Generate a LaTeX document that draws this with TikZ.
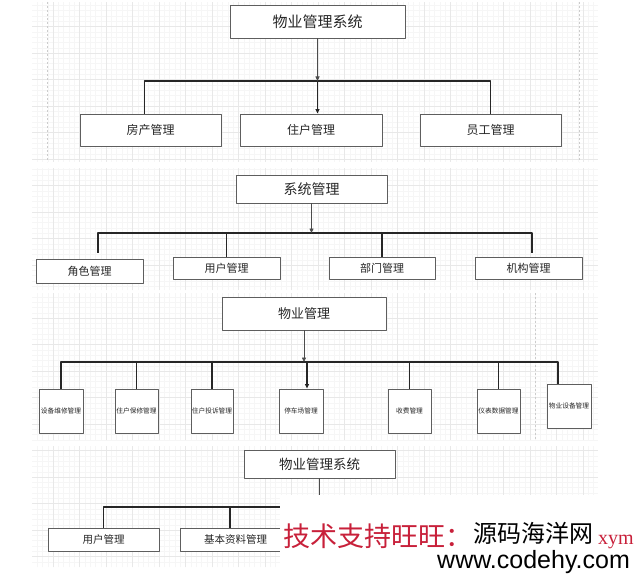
\documentclass[tikz,border=0pt]{standalone}
\usepackage{fontspec}
\newfontfamily\cjk{Noto Sans CJK SC}
\newfontfamily\wmsans{Liberation Sans}
\newfontfamily\wmserif{Liberation Serif}
\usetikzlibrary{arrows.meta}
\definecolor{boxgrey}{HTML}{5E5E5E}
\definecolor{gridminor}{HTML}{F6F6F6}
\definecolor{gridmajor}{HTML}{E8E8E8}
\definecolor{pagedash}{HTML}{CCCCCC}
\definecolor{wmred}{HTML}{C8203A}

\tikzset{
  box/.style={draw=boxgrey, line width=0.9, fill=white, inner sep=0pt, text=black!85},
  lbl/.style={font=\cjk\fontsize{#1}{#1}\selectfont},
  bus/.style={black!85, line width=1.7},
  feed/.style={black!70, line width=0.8, -{Triangle[length=4.5pt, width=4pt]}},
  drop/.style={bus, -{Triangle[length=4.5pt, width=4pt]}},
}

\begin{document}
\begin{tikzpicture}[x=1pt, y=1pt, line join=round]
  \useasboundingbox (0,0) rectangle (640,-575);
  \fill[white] (0,0) rectangle (640,-575);
  % canvas grids
  \foreach \ya/\yb in {-2/-162, -168/-290, -293/-440, -446/-567} {
    \draw[gridminor, line width=0.3, step=5.3pt] (32,\ya) grid (598,\yb);
    \draw[gridmajor, line width=0.5, step=26.5pt] (32,\ya) grid (598,\yb);
  }
  % page breaks
  \draw[pagedash, line width=0.6, dash pattern=on 2pt off 2pt] (47,-2) -- (47,-162);
  \draw[pagedash, line width=0.6, dash pattern=on 2pt off 2pt] (579,-2) -- (579,-162);
  \draw[pagedash, line width=0.6, dash pattern=on 2pt off 2pt] (535,-293) -- (535,-440);

  % overview
  \node[box, lbl=15, minimum width=175pt, minimum height=33pt] (wysys) at (317.5,-21.5) {物业管理系统};
  \node[box, lbl=12, minimum width=141pt, minimum height=32pt] (fangchan) at (150.5,-130) {房产管理};
  \node[box, lbl=12, minimum width=142pt, minimum height=32pt] (zhuhu) at (311,-130) {住户管理};
  \node[box, lbl=12, minimum width=141pt, minimum height=32pt] (yuangong) at (490.5,-130) {员工管理};
  \coordinate (hub1) at (wysys.south |- 0,-81);
  \draw[bus] ([xshift=-6pt]fangchan.north) |- (yuangong.north |- hub1) -- (yuangong.north);
  \draw[feed] (wysys.south) -- (hub1);
  \draw[drop] (hub1) -- (hub1 |- zhuhu.north);

  % system admin
  \node[box, lbl=14, minimum width=151pt, minimum height=28pt] (xtgl) at (311.5,-189) {系统管理};
  \node[box, lbl=11, minimum width=107pt, minimum height=24pt] (juese) at (89.5,-271) {角色管理};
  \node[box, lbl=11, minimum width=107pt, minimum height=22pt] (yonghu) at (226.5,-268) {用户管理};
  \node[box, lbl=11, minimum width=106pt, minimum height=22pt] (bumen) at (382,-268) {部门管理};
  \node[box, lbl=11, minimum width=107pt, minimum height=22pt] (jigou) at (528.5,-268) {机构管理};
  \coordinate (hub2) at (xtgl.south |- 0,-233);
  \draw[bus] ([shift={(8.5,6)}]juese.north) |- ([xshift=3.5pt]jigou.north |- hub2) -- ([shift={(3.5,4)}]jigou.north);
  \draw[bus] (yonghu.north) -- (yonghu.north |- hub2);
  \draw[bus] (bumen.north) -- (bumen.north |- hub2);
  \draw[feed] (xtgl.south) -- (hub2);

  % property management
  \node[box, lbl=13, minimum width=164pt, minimum height=33pt] (wygl) at (304,-313.5) {物业管理};
  \node[box, lbl=6.7, minimum width=44pt, minimum height=44pt] (sbwx) at (61,-411) {设备维修管理};
  \node[box, lbl=6.7, minimum width=43pt, minimum height=44pt] (zhbx) at (136.5,-411) {住户保修管理};
  \node[box, lbl=6.7, minimum width=42pt, minimum height=44pt] (zhts) at (212,-411) {住户投诉管理};
  \node[box, lbl=6.7, minimum width=44pt, minimum height=44pt] (tcc) at (301,-411) {停车场管理};
  \node[box, lbl=6.7, minimum width=43pt, minimum height=44pt] (sfgl) at (409.5,-411) {收费管理};
  \node[box, lbl=6.7, minimum width=43pt, minimum height=44pt] (ybsj) at (498.5,-411) {仪表数据管理};
  \node[box, lbl=6.7, minimum width=44pt, minimum height=44pt] (wysb) at (569,-406) {物业设备管理};
  \coordinate (hub3) at (wygl.south |- 0,-362);
  \coordinate (drop3) at (307,-362);
  \draw[bus] (sbwx.north) |- ([xshift=-11pt]wysb.north |- hub3) -- ([xshift=-11pt]wysb.north);
  \foreach \n in {zhbx, zhts, sfgl, ybsj}
    \draw[bus] (\n.north) -- (\n.north |- hub3);
  \draw[feed] (wygl.south) -- (hub3);
  \draw[drop] (drop3) -- (drop3 |- tcc.north);

  % overview, second sheet
  \node[box, lbl=13.5, minimum width=151pt, minimum height=28pt] (wysys2) at (319.5,-464) {物业管理系统};
  \node[box, lbl=10.5, minimum width=111pt, minimum height=23pt] (yh2) at (103.5,-539.5) {用户管理};
  \node[box, lbl=10.5, minimum width=111pt, minimum height=23pt] (jbzl) at (235.5,-539.5) {基本资料管理};
  \coordinate (hub4) at (wysys2.south |- 0,-507);
  \draw[black!70, line width=0.8] (wysys2.south) -- (hub4);
  \draw[bus] (yh2.north) |- (hub4);
  \draw[bus] ([xshift=-5.5pt]jbzl.north) -- ([xshift=-5.5pt]jbzl.north |- hub4);

  % watermark
  \fill[white] (280,-495) rectangle (640,-575);
  \node[anchor=west, inner sep=0pt, text=wmred, lbl=27] (wmtag) at (283,-536.5) {技术支持旺旺：};
  \node[anchor=base west, inner sep=0pt, text=wmred, font=\wmserif\fontsize{20}{20}\selectfont] (wmid) at (598,-544) {xym};
  \node[anchor=west, inner sep=0pt, text=black, lbl=24] (wmname) at (473,-533.5) {源码海洋网};
  \node[anchor=base west, inner sep=0pt, text=black, font=\wmsans\fontsize{25}{25}\selectfont] (wmurl) at (437,-568) {www.codehy.com};
\end{tikzpicture}
\end{document}
